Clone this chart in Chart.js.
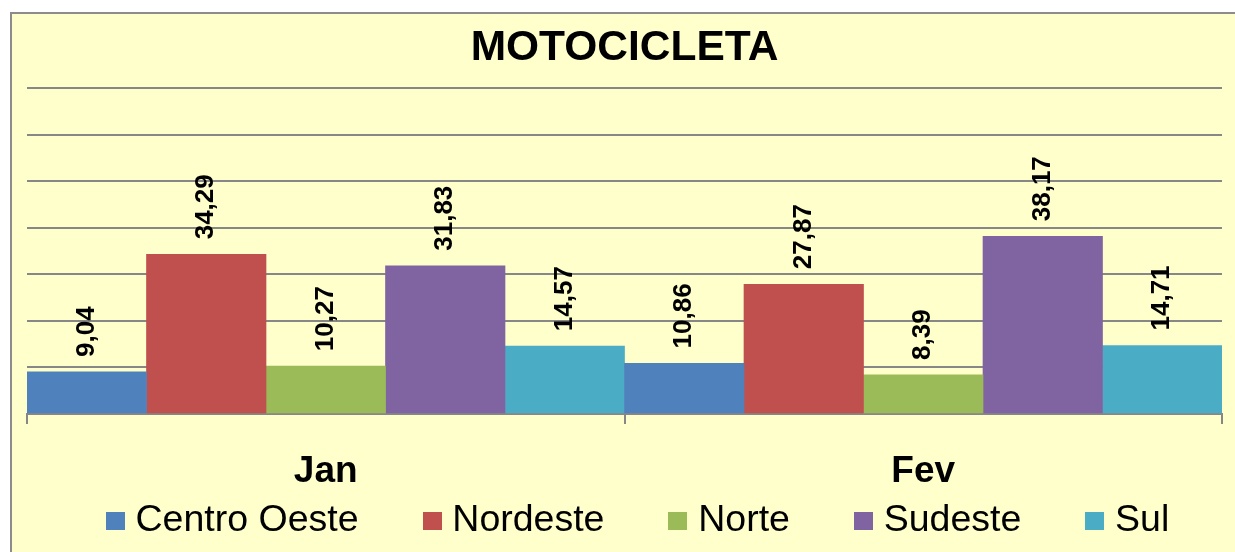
<!DOCTYPE html>
<html>
<head>
<meta charset="utf-8">
<script src="https://cdn.jsdelivr.net/npm/chart.js@4/dist/chart.umd.min.js"></script>
<style>
  html, body { margin: 0; padding: 0; background: #ffffff; overflow: hidden; }
  #frame {
    position: absolute; left: 10px; top: 12px; width: 1240px; height: 560px;
    background: #ffffcc; border-left: 2px solid #8c8c8c; border-top: 2px solid #8c8c8c;
  }
  #wrap { position: absolute; left: 0; top: 0; width: 1235px; height: 552px; }
</style>
</head>
<body>
<div id="frame"></div>
<div id="wrap"><canvas id="chart" width="1235" height="552"></canvas></div>
<script>
// data
const months = ["Jan", "Fev"];
const regions = ["Centro Oeste", "Nordeste", "Norte", "Sudeste", "Sul"];
const centroOeste = [9.04, 10.86];
const nordeste = [34.29, 27.87];
const norte = [10.27, 8.39];
const sudeste = [31.83, 38.17];
const sul = [14.57, 14.71];
const colors = ["#4f81bd", "#c0504d", "#9bbb59", "#8064a2", "#4bacc6"];

const seriesValues = [centroOeste, nordeste, norte, sudeste, sul];
const fontFamily = "'Liberation Sans', Arial, sans-serif";
const gridColor = "#878787";

// small square swatches for the legend (closer to the text than the default box)
function swatch(color) {
  const c = document.createElement("canvas");
  c.width = 19;
  c.height = 18;
  const g = c.getContext("2d");
  g.fillStyle = color;
  g.fillRect(0, 0, 19, 18);
  return c;
}
const swatches = colors.map(swatch);

// value labels written vertically above each bar
const barLabels = {
  id: "barLabels",
  afterDatasetsDraw(chart) {
    const ctx = chart.ctx;
    ctx.save();
    ctx.font = "bold 26px " + fontFamily;
    ctx.fillStyle = "#000000";
    ctx.textAlign = "left";
    ctx.textBaseline = "middle";
    chart.data.datasets.forEach((ds, i) => {
      const meta = chart.getDatasetMeta(i);
      meta.data.forEach((bar, j) => {
        const text = ds.data[j].toFixed(2).replace(".", ",");
        ctx.save();
        ctx.translate(bar.x, bar.y - 15);
        ctx.rotate(-Math.PI / 2);
        ctx.fillText(text, 0, 0);
        ctx.restore();
      });
    });
    ctx.restore();
  }
};

// x axis box is squeezed so the wide legend fits; let its labels run below it.
// title and legend are nudged right to sit where the original has them
const layoutTweaks = {
  id: "layoutTweaks",
  afterLayout(chart) {
    chart.scales.x.bottom = chart.height;
    chart.titleBlock.left += 13.5;
    chart.titleBlock.right += 13.5;
    chart.legend.left += 30.5;
    chart.legend.right += 30.5;
  }
};

const ctx = document.getElementById("chart").getContext("2d");
new Chart(ctx, {
  type: "bar",
  data: {
    labels: months,
    datasets: regions.map((name, i) => ({
      label: name,
      data: seriesValues[i],
      backgroundColor: colors[i],
      borderWidth: 0,
      categoryPercentage: 1,
      barPercentage: 1
    }))
  },
  options: {
    responsive: false,
    animation: false,
    layout: { padding: { left: 0, right: 13, top: 0, bottom: 2.25 } },
    plugins: {
      title: {
        display: true,
        text: "MOTOCICLETA",
        color: "#000000",
        font: { family: fontFamily, size: 42.5, weight: "bold" },
        padding: { top: 22.5, bottom: 14.5 }
      },
      legend: {
        position: "bottom",
        labels: {
          color: "#000000",
          font: { family: fontFamily, size: 37.5 },
          usePointStyle: true,
          boxWidth: 3,
          boxHeight: 18,
          padding: 72,
          generateLabels(chart) {
            const items = Chart.defaults.plugins.legend.labels.generateLabels(chart);
            items.forEach((item) => { item.pointStyle = swatches[item.datasetIndex]; });
            return items;
          }
        }
      },
      tooltip: { enabled: false }
    },
    scales: {
      x: {
        grid: {
          drawOnChartArea: false,
          drawTicks: true,
          tickLength: 10,
          color: gridColor,
          lineWidth: 2
        },
        border: { display: true, color: gridColor, width: 2 },
        ticks: {
          color: "#000000",
          padding: 25.8,
          font: { family: fontFamily, size: 37, weight: "bold" }
        },
        // legend top = 552 - 2.25 - (37.5 + 72 + 10); chart area must end at 414
        afterFit(scale) { scale.height = 16.25; }
      },
      y: {
        min: 0,
        max: 70,
        ticks: { display: false, stepSize: 10 },
        border: { display: false },
        grid: { color: gridColor, lineWidth: 2, drawTicks: false },
        afterFit(scale) { scale.width = 27; }
      }
    }
  },
  plugins: [barLabels, layoutTweaks]
});
</script>
</body>
</html>
